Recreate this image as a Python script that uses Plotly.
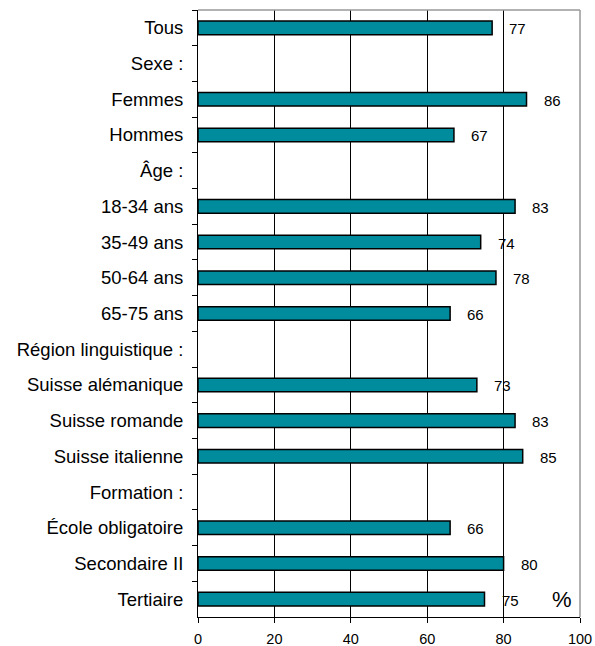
import plotly.graph_objects as go

categories = [
    "Tous", "Sexe :", "Femmes", "Hommes", "Âge :", "18-34 ans", "35-49 ans",
    "50-64 ans", "65-75 ans", "Région linguistique :", "Suisse alémanique",
    "Suisse romande", "Suisse italienne", "Formation :", "École obligatoire",
    "Secondaire II", "Tertiaire",
]
values = [77, None, 86, 67, None, 83, 74, 78, 66, None, 73, 83, 85, None, 66, 80, 75]
x_ticks = [0, 20, 40, 60, 80, 100]

BAR_COLOR = "#008C9C"
FONT = "Arial, Liberation Sans"

fig = go.Figure()
fig.add_trace(go.Bar(
    y=categories,
    x=values,
    orientation="h",
    marker=dict(color=BAR_COLOR, line=dict(color="black", width=1.5)),
    hoverinfo="x+y",
))

# value labels to the right of each bar
for cat, v in zip(categories, values):
    if v is None:
        continue
    fig.add_annotation(
        x=v, y=cat, text=str(v), showarrow=False,
        xanchor="left", xshift=15, yshift=-1,
        font=dict(family=FONT, size=15, color="black"),
    )

fig.add_annotation(
    x=0.985, y=0.005, xref="paper", yref="paper", text="%", showarrow=False,
    xanchor="right", yanchor="bottom",
    font=dict(family=FONT, size=22, color="black"),
)

# grey frame on top and right
fig.add_shape(type="line", xref="paper", yref="paper", x0=0, x1=1, y0=1, y1=1,
              line=dict(color="#999999", width=1.5))
fig.add_shape(type="line", xref="paper", yref="paper", x0=1, x1=1, y0=0, y1=1,
              line=dict(color="#999999", width=1.5))

fig.update_layout(
    width=595, height=646,
    margin=dict(l=198, r=15, t=10, b=29),
    paper_bgcolor="white", plot_bgcolor="white",
    bargap=0.62,
    showlegend=False,
    font=dict(family=FONT, color="black"),
)
fig.update_xaxes(
    range=[0, 100], tickvals=x_ticks, ticks="outside", ticklen=5,
    tickcolor="black", showline=True, linecolor="black", linewidth=1,
    showgrid=True, gridcolor="black", gridwidth=1, zeroline=False,
    tickfont=dict(size=14.5), ticklabelstandoff=4, automargin=False,
)
fig.update_yaxes(
    autorange="reversed", ticks="outside", ticklen=5, tickson="boundaries",
    tickcolor="black", showline=True, linecolor="black", linewidth=1,
    showgrid=False, tickfont=dict(size=18.5), ticklabelstandoff=10,
    automargin=False,
)

fig.write_html("out.html")
